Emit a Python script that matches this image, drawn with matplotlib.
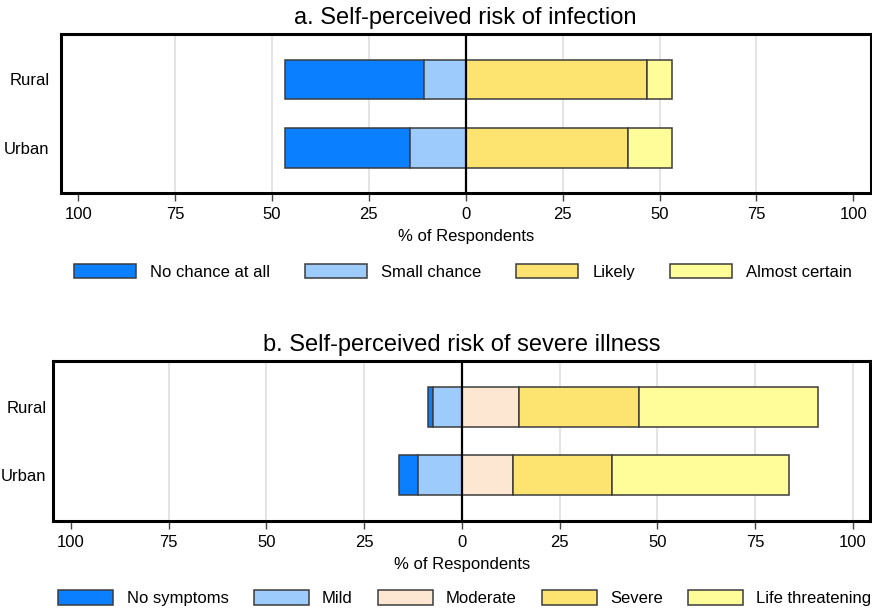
import numpy as np
import matplotlib
matplotlib.use("Agg")
import matplotlib.pyplot as plt
from matplotlib.patches import Patch

plt.rcParams['font.family'] = ['Liberation Sans', 'DejaVu Sans']

groups = ['Rural', 'Urban']
ticks = [-100, -75, -50, -25, 0, 25, 50, 75, 100]
tick_labels = ['100', '75', '50', '25', '0', '25', '50', '75', '100']

# a. risk of infection (% of respondents)
inf_labels = ['No chance at all', 'Small chance', 'Likely', 'Almost certain']
no_chance = [35.9, 32.1]
small_chance = [10.7, 14.5]
likely = [46.8, 41.9]
almost_certain = [6.4, 11.3]

# b. risk of severe illness (% of respondents)
sev_labels = ['No symptoms', 'Mild', 'Moderate', 'Severe', 'Life threatening']
no_symptoms = [1.3, 4.9]
mild = [7.4, 11.2]
moderate = [14.6, 13.0]
severe = [30.8, 25.3]
life_threat = [45.6, 45.4]

DBLUE = '#0a7fff'
LBLUE = '#9ccbfc'
PEACH = '#fde6d2'
YEL = '#fde36f'
LYEL = '#fffd9a'
EDGE = '#3c3c3c'


def draw_panel(ax, left, right, colors, title, grid_at, ypad):
    y = np.array([1, 0])
    h = 0.585
    # left side: outermost category first, stacked toward zero
    start = -np.sum(left, axis=0)
    for vals, c in zip(left, colors[:len(left)]):
        vals = np.array(vals)
        ax.barh(y, vals, left=start, height=h, color=c, edgecolor=EDGE, linewidth=1.1, zorder=3)
        start = start + vals
    start = np.zeros(2)
    for vals, c in zip(right, colors[len(left):]):
        vals = np.array(vals)
        ax.barh(y, vals, left=start, height=h, color=c, edgecolor=EDGE, linewidth=1.1, zorder=3)
        start = start + vals
    for g in grid_at:
        ax.axvline(g, color='#dcdcdc', lw=1.1, zorder=1)
    ax.axvline(0, color='black', lw=1.6, zorder=4)
    ax.set_xlim(-104.5, 104.5)
    ax.set_ylim(-0.665, 1.665)
    ax.set_yticks(y)
    ax.set_yticklabels(groups, fontsize=12)
    ax.tick_params(axis='y', length=0, pad=ypad)
    ax.set_xticks(ticks)
    ax.set_xticklabels(tick_labels, fontsize=12)
    ax.tick_params(axis='x', length=6, width=1, color='#444444', pad=4)
    ax.set_xlabel('% of Respondents', fontsize=12, labelpad=5)
    ax.set_title(title, fontsize=17, pad=7)
    for s in ax.spines.values():
        s.set_linewidth(2.2)
        s.set_zorder(5)


fig = plt.figure(figsize=(8.72, 6.09), dpi=100)
ax1 = fig.add_axes([0.0696, 0.683, 0.929, 0.261])
ax2 = fig.add_axes([0.0611, 0.145, 0.937, 0.262])

inf_colors = [DBLUE, LBLUE, YEL, LYEL]
draw_panel(ax1, [no_chance, small_chance], [likely, almost_certain], inf_colors,
           'a. Self-perceived risk of infection', [-75, -50, -25, 25, 50, 75], 8)

sev_colors = [DBLUE, LBLUE, PEACH, YEL, LYEL]
draw_panel(ax2, [no_symptoms, mild], [moderate, severe, life_threat], sev_colors,
           'b. Self-perceived risk of severe illness', [-75, -50, -25, 25, 50, 75, 100], 5)

h1 = [Patch(facecolor=c, edgecolor=EDGE, linewidth=1.1) for c in inf_colors]
fig.legend(h1, inf_labels, loc='center', bbox_to_anchor=(0.531, 0.554), ncol=4,
           frameon=False, fontsize=12, handlelength=3.72, handleheight=1.0,
           handletextpad=0.84, columnspacing=2.1)

h2 = [Patch(facecolor=c, edgecolor=EDGE, linewidth=1.1) for c in sev_colors]
fig.legend(h2, sev_labels, loc='center', bbox_to_anchor=(0.533, 0.018), ncol=5,
           frameon=False, fontsize=12, handlelength=3.3, handleheight=1.0,
           handletextpad=0.8, columnspacing=1.5)

fig.savefig('out.png', dpi=100)
